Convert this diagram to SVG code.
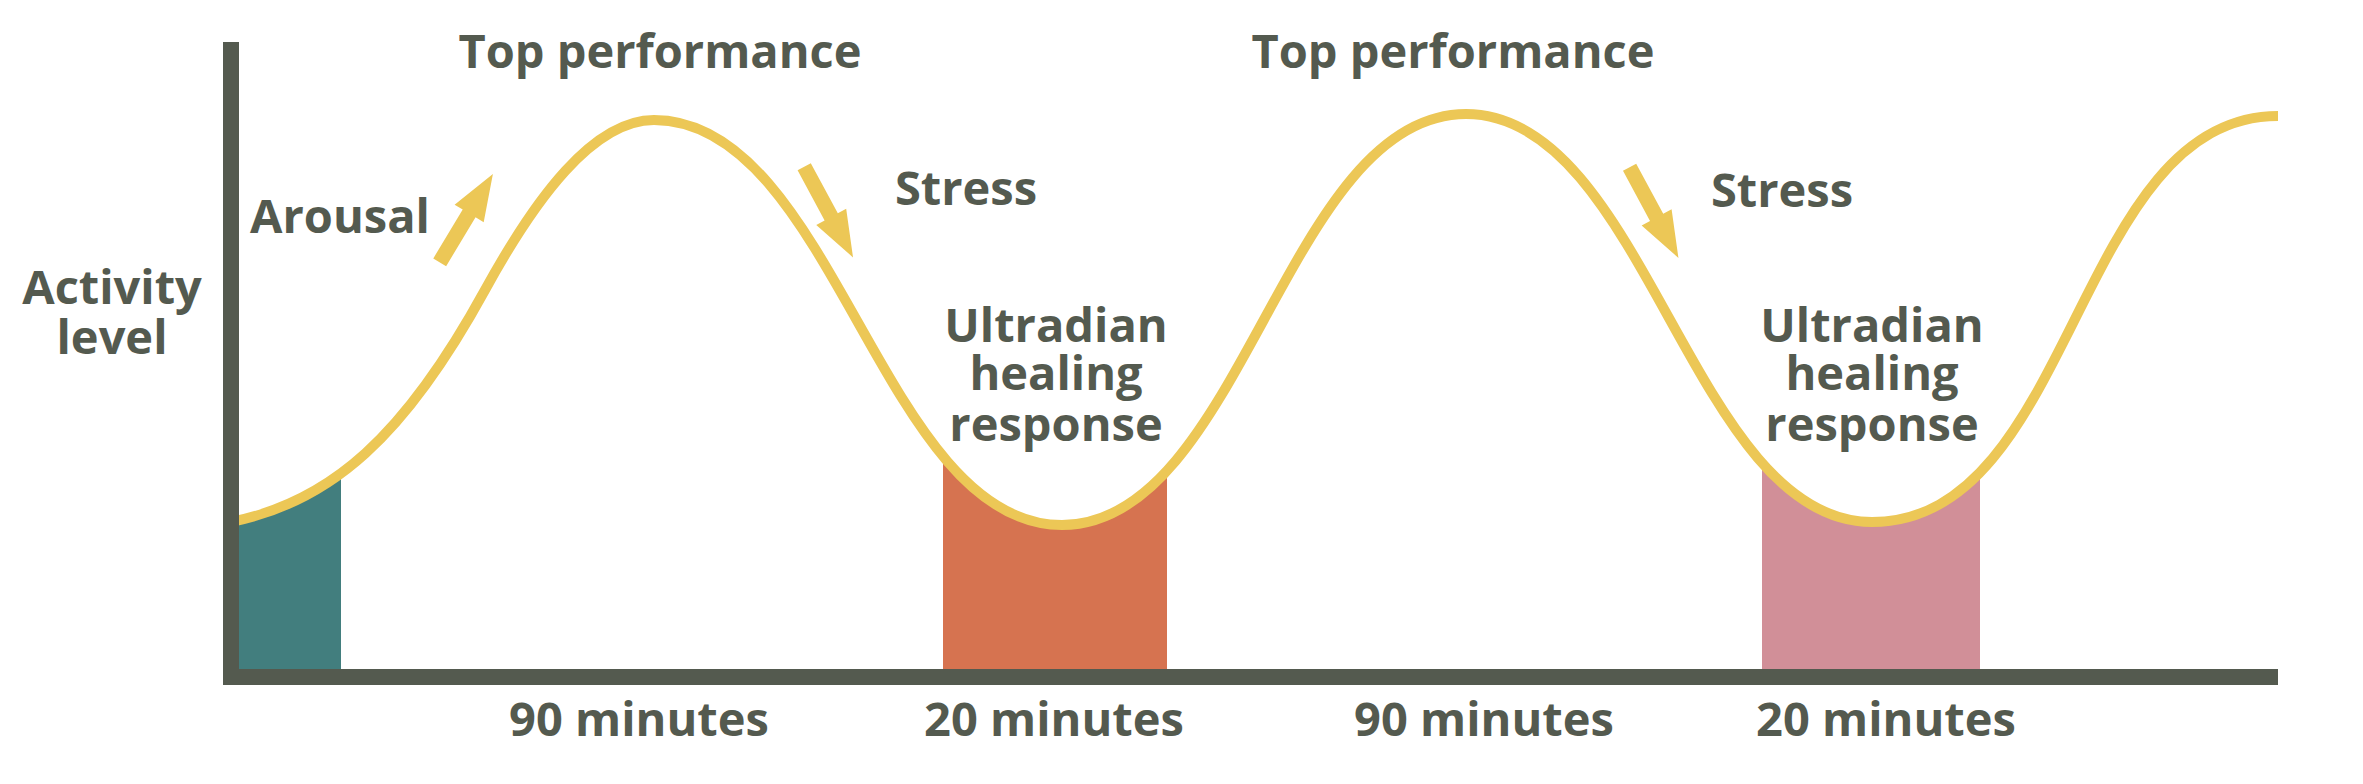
<svg xmlns="http://www.w3.org/2000/svg" xmlns:xlink="http://www.w3.org/1999/xlink" width="2363" height="784" viewBox="0 0 2363 784">
  <style>
    .lbl { font-family: "Open Sans", "Liberation Sans", sans-serif; font-weight: 700; font-size: 47px; fill: #545A4F; text-anchor: middle; }
    .axis { fill: #545A4F; }
    .wave { fill: none; stroke: #ECC756; stroke-width: 10; stroke-linecap: butt; stroke-linejoin: round; }
    .arrow { fill: #ECC756; }
  </style>
  <defs>
    <clipPath id="belowCurve">
      <path d="M231,522 C331,502 405,436 485,290 C535,199 593,120 654,120 C834,120 882,525 1062,525 C1242,525 1286,114 1466,114 C1646,114 1692,522 1872,522 C2075,522 2075,116 2278,116 L2278,700 L223,700 Z"/>
    </clipPath>
    <polygon id="arrowShape" points="0,-7.5 57,-7.5 57,-17 103,0 57,17 57,7.5 0,7.5"/>
  </defs>

  <rect width="2363" height="784" fill="#FFFFFF"/>

  <g id="regions" clip-path="url(#belowCurve)">
    <rect id="region-start" x="239" y="100" width="102" height="569" fill="#427E7E"/>
    <rect id="region-healing-1" x="943" y="100" width="224" height="569" fill="#D67350"/>
    <rect id="region-healing-2" x="1762" y="100" width="218" height="569" fill="#D18F98"/>
  </g>

  <g id="connectors">
    <path id="activity-curve" class="wave" d="M231,522 C331,502 405,436 485,290 C535,199 593,120 654,120 C834,120 882,525 1062,525 C1242,525 1286,114 1466,114 C1646,114 1692,522 1872,522 C2075,522 2075,116 2278,116"/>
    <use id="arrow-arousal" class="arrow" xlink:href="#arrowShape" href="#arrowShape" transform="translate(439.7,262.3) rotate(-58.9)"/>
    <use id="arrow-stress-1" class="arrow" xlink:href="#arrowShape" href="#arrowShape" transform="translate(804.2,166.7) rotate(61.7)"/>
    <use id="arrow-stress-2" class="arrow" xlink:href="#arrowShape" href="#arrowShape" transform="translate(1629.6,167.2) rotate(61.7)"/>
  </g>

  <g id="axes">
    <rect id="y-axis" class="axis" x="223" y="42" width="16" height="643"/>
    <rect id="x-axis" class="axis" x="223" y="669" width="2055" height="16"/>
  </g>

  <g id="label-activity-level">
    <text class="lbl" x="112" y="304">Activity</text>
    <text class="lbl" x="112" y="354">level</text>
  </g>
  <g id="label-arousal"><text class="lbl" x="340" y="233">Arousal</text></g>
  <g id="label-top-1"><text class="lbl" x="660" y="68">Top performance</text></g>
  <g id="label-top-2"><text class="lbl" x="1453" y="68">Top performance</text></g>
  <g id="label-stress-1"><text class="lbl" x="966" y="205">Stress</text></g>
  <g id="label-stress-2"><text class="lbl" x="1782" y="207">Stress</text></g>
  <g id="label-healing-1">
    <text class="lbl" x="1056" y="342">Ultradian</text>
    <text class="lbl" x="1056" y="390">healing</text>
    <text class="lbl" x="1056" y="441">response</text>
  </g>
  <g id="label-healing-2">
    <text class="lbl" x="1872" y="342">Ultradian</text>
    <text class="lbl" x="1872" y="390">healing</text>
    <text class="lbl" x="1872" y="441">response</text>
  </g>
  <g id="label-90-1"><text class="lbl" x="639" y="736">90 minutes</text></g>
  <g id="label-20-1"><text class="lbl" x="1054" y="736">20 minutes</text></g>
  <g id="label-90-2"><text class="lbl" x="1484" y="736">90 minutes</text></g>
  <g id="label-20-2"><text class="lbl" x="1886" y="736">20 minutes</text></g>
</svg>
